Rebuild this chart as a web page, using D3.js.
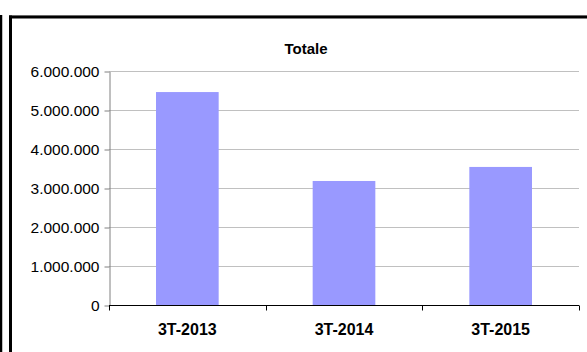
<!DOCTYPE html>
<html><head><meta charset="utf-8">
<script src="https://cdn.jsdelivr.net/npm/d3@7"></script>
<style>html,body{margin:0;padding:0;background:#fff;}svg{display:block;}</style>
</head><body>
<svg id="c" width="587" height="352"></svg>
<script>
const categories = ["3T-2013", "3T-2014", "3T-2015"];
const values = [5460000, 3180000, 3540000];
const yTicks = [0, 1000000, 2000000, 3000000, 4000000, 5000000, 6000000];
const title = "Totale";

const svg = d3.select("#c");
const font = "'Liberation Sans', Arial, sans-serif";
const m = {left: 109, right: 579, top: 71, bottom: 305};

// outer lines / frame
svg.append("line").attr("x1", 1).attr("x2", 1).attr("y1", 15).attr("y2", 352)
  .attr("stroke", "#000").attr("stroke-width", 2.5);
svg.append("line").attr("x1", 9).attr("x2", 587).attr("y1", 15.5).attr("y2", 15.5)
  .attr("stroke", "#d0d0d0").attr("stroke-width", 1);
svg.append("line").attr("x1", 9).attr("x2", 587).attr("y1", 17).attr("y2", 17)
  .attr("stroke", "#000").attr("stroke-width", 3);
svg.append("line").attr("x1", 10.5).attr("x2", 10.5).attr("y1", 15.5).attr("y2", 352)
  .attr("stroke", "#000").attr("stroke-width", 3);

const x = d3.scaleBand().domain(categories).range([m.left, m.right])
  .paddingInner(0.6).paddingOuter(0.3);
const y = d3.scaleLinear().domain([0, 6000000]).range([m.bottom, m.top]);
const fmt = v => d3.format(",")(v).replace(/,/g, ".");

// gridlines
svg.append("g").selectAll("line").data(yTicks.filter(d => d > 0)).join("line")
  .attr("x1", m.left).attr("x2", m.right)
  .attr("y1", d => Math.round(y(d)) + 0.5).attr("y2", d => Math.round(y(d)) + 0.5)
  .attr("stroke", "#c0c0c0").attr("stroke-width", 1);

// bars
svg.append("g").selectAll("rect").data(values).join("rect")
  .attr("x", (d, i) => x(categories[i]))
  .attr("width", x.bandwidth())
  .attr("y", d => y(d))
  .attr("height", d => m.bottom - y(d))
  .attr("fill", "#9999ff");

// y axis
const ya = svg.append("g").attr("transform", `translate(${m.left + 0.5},0.5)`)
  .call(d3.axisLeft(y).tickValues(yTicks).tickFormat(fmt).tickSize(5).tickSizeOuter(0).tickPadding(5));
ya.select(".domain").attr("stroke", "#808080");
ya.selectAll(".tick line").attr("stroke", "#808080");
ya.selectAll("text").attr("font-family", font).attr("font-size", 15.5).attr("fill", "#000");

// x axis
const xTickPos = [m.left, m.left + (m.right - m.left) / 3, m.left + 2 * (m.right - m.left) / 3, m.right];
const xa = svg.append("g").attr("transform", `translate(0,${m.bottom + 0.5})`);
xa.append("line").attr("x1", m.left).attr("x2", m.right).attr("stroke", "#000");
xa.selectAll(".tk").data(xTickPos).join("line").attr("class", "tk")
  .attr("x1", d => Math.round(d) + 0.5).attr("x2", d => Math.round(d) + 0.5)
  .attr("y1", 0).attr("y2", 5).attr("stroke", "#000");
xa.selectAll("text").data(categories).join("text")
  .attr("x", d => x(d) + x.bandwidth() / 2).attr("y", 29)
  .attr("text-anchor", "middle").attr("font-family", font)
  .attr("font-weight", "bold").attr("font-size", 16).text(d => d);

// title
svg.append("text").attr("x", 306).attr("y", 54).attr("text-anchor", "middle")
  .attr("font-family", font).attr("font-weight", "bold").attr("font-size", 15).text(title);
</script>
</body></html>
